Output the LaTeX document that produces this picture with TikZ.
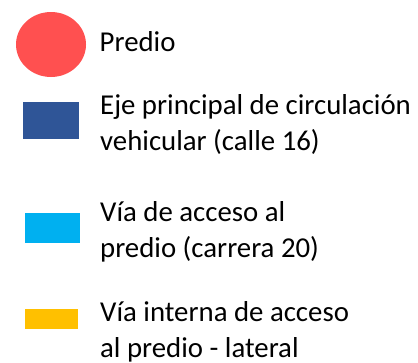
\documentclass[tikz,border=0pt]{standalone}
\usepackage{fontspec}
\setmainfont{Carlito}
\usetikzlibrary{positioning}
\usetikzlibrary{shapes.geometric}
\definecolor{rojopredio}{HTML}{FF5050}
\definecolor{azulcalle}{HTML}{2F5597}
\definecolor{celestecarrera}{HTML}{00B0F0}
\definecolor{amarillointerna}{HTML}{FFC000}

\begin{document}
\begin{tikzpicture}[x=1pt,y=-1pt,
    swatch/.style={draw=none,inner sep=0pt},
    legtext/.style={anchor=base west,inner sep=0pt,align=left,
      font=\fontsize{28.8}{35.8}\selectfont}]
      \useasboundingbox (0,0) rectangle (418,362);
      \node[swatch,ellipse,fill=rojopredio,minimum width=70pt,minimum height=65pt] (predio) at (51,44.5) {};
      \node[swatch,fill=azulcalle,minimum width=56pt,minimum height=37pt] (calle) at (51,120.5) {};
      \node[swatch,fill=celestecarrera,minimum width=55pt,minimum height=30pt] (carrera) at (52.5,228) {};
      \node[swatch,fill=amarillointerna,minimum width=53pt,minimum height=20pt] (interna) at (51.5,319) {};
      \node[legtext] (tpredio) at (99.5,51.7) {Predio};
      \node[legtext] (tcalle) at (100,150.1) {Eje principal de circulación\\vehicular (calle 16)};
      \node[legtext] (tcarrera) at (100,257.5) {Vía de acceso al\\predio (carrera 20)};
      \node[legtext] (tinterna) at (100,357.5) {Vía interna de acceso\\al predio - lateral};
    \end{tikzpicture}
\end{document}
